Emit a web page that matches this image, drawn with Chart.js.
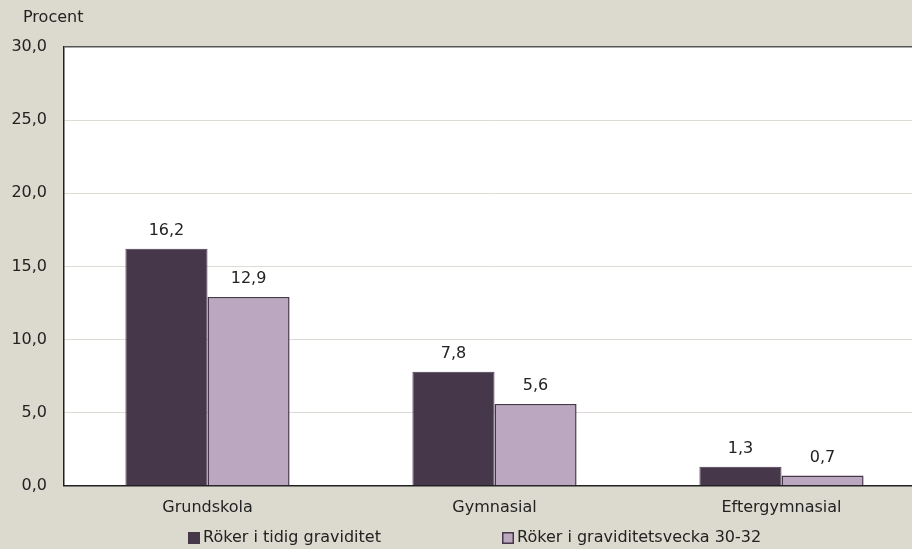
<!DOCTYPE html>
<html>
<head>
<meta charset="utf-8">
<script src="https://cdn.jsdelivr.net/npm/chart.js@4/dist/chart.umd.min.js"></script>
<style>
  html, body { margin: 0; padding: 0; background: #dcd9ce; overflow: hidden; }
  /* plotytan fortsätter en bit utanför högerkanten, som i originalet */
  #wrap { width: 925px; height: 549px; position: relative; }
</style>
</head>
<body>
<div id="wrap"><canvas id="graf"></canvas></div>
<script>
// utbildningsnivå
kategorier = ['Grundskola', 'Gymnasial', 'Eftergymnasial']
// rökning, procent
tidig = [16.2, 7.8, 1.3]
vecka30 = [12.9, 5.6, 0.7]
serieNamn = ['Röker i tidig graviditet', 'Röker i graviditetsvecka 30-32']
yTicks = [0, 5, 10, 15, 20, 25, 30]

const FONT = '"DejaVu Sans", sans-serif'
const MORK = '#47374b'
const LJUS = '#bba7c0'

function komma(v){ return v.toFixed(1).replace('.', ',') }

// bakgrund + vit plotyta, rubrik och förklaring
const bakgrund = {
    id: 'bakgrund',
    beforeDraw(chart){
        const c = chart.ctx, a = chart.chartArea
        c.save()
        c.fillStyle = '#dcd9ce'
        c.fillRect(0, 0, chart.width, chart.height)
        c.fillStyle = '#ffffff'
        c.fillRect(a.left, a.top, a.right - a.left, a.bottom - a.top)
        c.restore()
    },
    afterDraw(chart){
        const c = chart.ctx
        c.save()
        c.font = '16px ' + FONT
        c.fillStyle = '#222'
        c.textBaseline = 'middle'
        c.fillText('Procent', 23, 18)

        // förklaring
        const y = 538
        const xs = [188, 502]
        chart.data.datasets.forEach((ds, i) => {
            c.fillStyle = ds.backgroundColor
            c.fillRect(xs[i], y - 6, 12, 12)
            c.strokeStyle = MORK
            c.lineWidth = 1.5
            c.strokeRect(xs[i] + 0.75, y - 5.25, 10.5, 10.5)
            c.fillStyle = '#222'
            c.fillText(ds.label, xs[i] + 15, y)
        })
        c.restore()
    }
}

// värden ovanför staplarna
const etiketter = {
    id: 'etiketter',
    afterDatasetsDraw(chart){
        const c = chart.ctx
        c.save()
        c.font = '16px ' + FONT
        c.fillStyle = '#222'
        c.textAlign = 'center'
        c.textBaseline = 'bottom'
        chart.data.datasets.forEach((ds, i) => {
            chart.getDatasetMeta(i).data.forEach((bar, j) => {
                c.fillText(komma(ds.data[j]), bar.x, bar.y - 10)
            })
        })
        c.restore()
    }
}

const ctx = document.getElementById('graf').getContext('2d')
const graf = new Chart(ctx, {
    type: 'bar',
    data: {
        labels: kategorier,
        datasets: [{
            label: serieNamn[0],
            data: tidig,
            backgroundColor: MORK,
            borderColor: MORK,
            borderWidth: 1
        }, {
            label: serieNamn[1],
            data: vecka30,
            backgroundColor: LJUS,
            borderColor: MORK,
            borderWidth: 1.5
        }]
    },
    options: {
        responsive: true,
        maintainAspectRatio: false,
        animation: false,
        layout: { padding: { top: 47, left: 0, right: 0, bottom: 20 } },
        datasets: { bar: { categoryPercentage: 0.572, barPercentage: 1.0 } },
        scales: {
            x: {
                grid: { display: false, drawTicks: false },
                border: { color: '#222', width: 1.5 },
                ticks: { color: '#222', font: { family: FONT, size: 16 }, padding: 12 }
            },
            y: {
                min: 0, max: 30,
                afterBuildTicks(ax){ ax.ticks = yTicks.map(v => ({ value: v })) },
                afterFit(ax){ ax.width = 64 },
                grid: {
                    drawTicks: false,
                    color: c => c.tick && c.tick.value === 30 ? '#555' : '#dddbd3',
                    lineWidth: c => c.tick && c.tick.value === 30 ? 1.5 : 1
                },
                border: { color: '#222', width: 1.5 },
                ticks: {
                    color: '#222',
                    font: { family: FONT, size: 16 },
                    padding: 17,
                    callback: v => komma(v)
                }
            }
        },
        plugins: {
            legend: { display: false },
            tooltip: { enabled: false }
        }
    },
    plugins: [bakgrund, etiketter]
})
</script>
</body>
</html>
